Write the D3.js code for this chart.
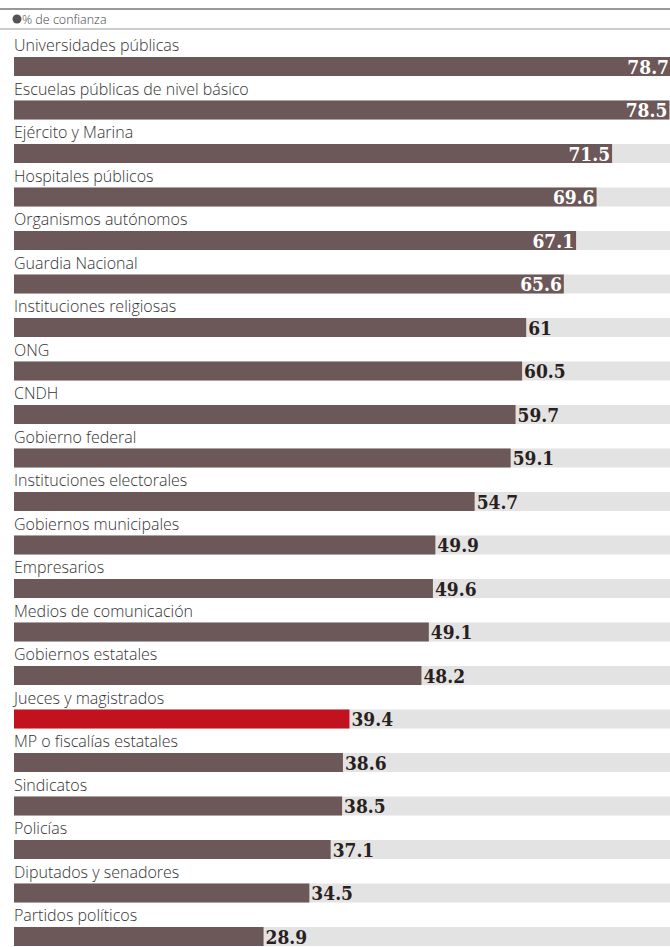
<!DOCTYPE html>
<html>
<head>
<meta charset="utf-8">
<script src="https://cdn.jsdelivr.net/npm/d3@7"></script>
<style>
  body { margin: 0; background: #fff; }
  svg { display: block; }
</style>
</head>
<body>
<div id="chart"></div>
<script>
// data
const categories = [
  "Universidades públicas", "Escuelas públicas de nivel básico", "Ejército y Marina",
  "Hospitales públicos", "Organismos autónomos", "Guardia Nacional",
  "Instituciones religiosas", "ONG", "CNDH", "Gobierno federal",
  "Instituciones electorales", "Gobiernos municipales", "Empresarios",
  "Medios de comunicación", "Gobiernos estatales", "Jueces y magistrados",
  "MP o fiscalías estatales", "Sindicatos", "Policías",
  "Diputados y senadores", "Partidos políticos"
];
const values = [78.7, 78.5, 71.5, 69.6, 67.1, 65.6, 61, 60.5, 59.7, 59.1,
  54.7, 49.9, 49.6, 49.1, 48.2, 39.4, 38.6, 38.5, 37.1, 34.5, 28.9];
const valueLabels = ["78.7", "78.5", "71.5", "69.6", "67.1", "65.6", "61", "60.5", "59.7", "59.1",
  "54.7", "49.9", "49.6", "49.1", "48.2", "39.4", "38.6", "38.5", "37.1", "34.5", "28.9"];
const highlighted = ["Jueces y magistrados"];
const legendLabel = "% de confianza";

const width = 670, height = 947;
const barColor = "#6c5859", redColor = "#c1121d", trackColor = "#e3e3e3";

const data = categories.map((c, i) => ({ name: c, value: values[i], label: valueLabels[i] }));

const svg = d3.select("#chart").append("svg")
  .attr("width", width).attr("height", height);

// bars start a little left of the zero point, like the original
const x = d3.scaleLinear().domain([-1.6, 78.7]).range([14, 671]);
const y = d3.scaleBand().domain(categories).range([35, 35 + 21 * 43.5]);
const barH = 19;

// header rules + legend
svg.append("line").attr("x1", 0).attr("x2", width).attr("y1", 9).attr("y2", 9)
  .style("stroke", "#777").style("stroke-width", 1.5);
svg.append("line").attr("x1", 0).attr("x2", width).attr("y1", 29).attr("y2", 29)
  .style("stroke", "#999").style("stroke-width", 1.2);
svg.append("circle").attr("cx", 17).attr("cy", 19).attr("r", 4.5).attr("fill", "#555");
svg.append("text").attr("x", 22).attr("y", 23.5).text(legendLabel)
  .attr("font-family", "Open Sans").attr("font-size", "12.5px")
  .attr("font-weight", 300).attr("fill", "#444");

const rows = svg.selectAll("g.row").data(data).enter().append("g").attr("class", "row");

rows.append("text")
  .attr("x", 14)
  .attr("y", d => y(d.name) + 16)
  .text(d => d.name)
  .attr("font-family", "Open Sans")
  .attr("font-weight", 300)
  .attr("font-size", "16px")
  .attr("fill", "#333");

rows.append("rect")
  .attr("x", 14)
  .attr("y", d => y(d.name) + 22)
  .attr("width", width - 14)
  .attr("height", barH)
  .attr("fill", trackColor);

rows.append("rect")
  .attr("x", 14)
  .attr("y", d => y(d.name) + 22)
  .attr("width", d => x(d.value) - 14)
  .attr("height", barH)
  .attr("fill", d => highlighted.includes(d.name) ? redColor : barColor);

rows.append("text")
  .attr("x", d => d.value >= 65 ? x(d.value) - 2 : x(d.value) + 2)
  .attr("y", d => y(d.name) + 22 + barH / 2 + 7)
  .attr("text-anchor", d => d.value >= 65 ? "end" : "start")
  .text(d => d.label)
  .attr("font-family", "DejaVu Serif")
  .attr("font-weight", "bold")
  .attr("font-stretch", "condensed")
  .attr("font-size", "19px")
  .attr("fill", d => d.value >= 65 ? "#fff" : "#2a1f20");
</script>
</body>
</html>
